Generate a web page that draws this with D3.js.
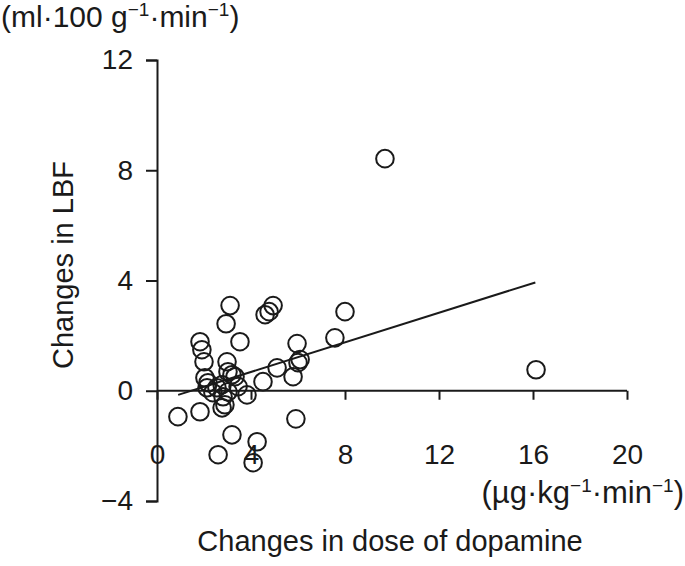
<!DOCTYPE html>
<html>
<head>
<meta charset="utf-8">
<script src="https://cdn.jsdelivr.net/npm/d3@7"></script>
<style>
  body { margin: 0; background: #fff; }
  text { font-family: "Liberation Sans", Arial, sans-serif; fill: #1a1a1a; }
</style>
</head>
<body>
<div id="chart"></div>
<script>
// data: dose change (x) vs LBF change (y)
const doseChange = [9.70, 16.13, 8.00, 7.57, 3.11, 2.94, 4.94, 4.60, 4.77, 1.83,
  1.91, 3.53, 2.00, 2.98, 5.96, 6.09, 6.00, 5.11, 5.79, 4.51,
  2.04, 2.17, 2.13, 3.02, 3.19, 3.32, 2.55, 2.77, 2.38, 3.02,
  2.81, 3.45, 3.83, 2.89, 2.77, 1.83, 0.89, 5.91, 3.19, 4.26,
  2.60, 4.09];
const lbfChange = [8.42, 0.76, 2.87, 1.92, 3.09, 2.43, 3.09, 2.76, 2.87, 1.78,
  1.49, 1.78, 1.05, 1.05, 1.71, 1.13, 1.02, 0.83, 0.51, 0.33,
  0.47, 0.29, 0.11, 0.69, 0.58, 0.51, 0.11, 0.22, -0.07, -0.04,
  -0.22, 0.15, -0.15, -0.51, -0.62, -0.76, -0.94, -1.02, -1.60, -1.85,
  -2.32, -2.61];
const fitX = [0.9, 16.1];
const fitY = [-0.15, 3.93];
const xTicks = [0, 4, 8, 12, 16, 20];
const yTicks = [-4, 0, 4, 8, 12];

const svgWidth = 685;
const svgHeight = 566;
const svg = d3.select('#chart').append('svg')
  .attr('width', svgWidth).attr('height', svgHeight);

const x = d3.scaleLinear().domain([0, 20]).range([157, 627]);
const y = d3.scaleLinear().domain([-4, 12]).range([501, 60]);

const ink = '#1a1a1a';

// y axis
const yAxis = svg.append('g')
  .attr('transform', `translate(${x(0)},0)`)
  .call(d3.axisLeft(y).tickValues(yTicks).tickSize(11).tickPadding(13)
    .tickFormat(d => d < 0 ? '\u2212' + Math.abs(d) : d));
// x axis along y = 0
const xAxis = svg.append('g')
  .attr('transform', `translate(0,${y(0)})`)
  .call(d3.axisBottom(x).tickValues(xTicks).tickSize(9).tickPadding(44).tickSizeOuter(0));

[xAxis, yAxis].forEach(a => {
  a.selectAll('path, line').attr('stroke', ink).attr('stroke-width', 2);
  a.selectAll('text').style('font-size', '28px').attr('fill', ink);
});
xAxis.select('.domain').attr('d', `M${x(0)},0H${x(20)}`);

// regression line
svg.append('line')
  .attr('x1', x(fitX[0])).attr('y1', y(fitY[0]))
  .attr('x2', x(fitX[1])).attr('y2', y(fitY[1]))
  .attr('stroke', ink).attr('stroke-width', 2);

// points
svg.append('g').selectAll('circle')
  .data(doseChange.map((d, i) => ({dose: d, lbf: lbfChange[i]})))
  .enter().append('circle')
  .attr('cx', d => x(d.dose))
  .attr('cy', d => y(d.lbf))
  .attr('r', 8.8)
  .attr('fill', 'none')
  .attr('stroke', ink)
  .attr('stroke-width', 2);

// unit labels with superscripts
function unitLabel(parts, xPos, yPos, anchor, size) {
  const t = svg.append('text')
    .attr('x', xPos).attr('y', yPos)
    .attr('text-anchor', anchor)
    .style('font-size', size + 'px');
  parts.forEach(p => {
    const s = t.append('tspan').text(p[0]);
    if (p[1]) s.attr('dy', -11).style('font-size', '19px');
    else if (t.selectAll('tspan').size() > 1) s.attr('dy', 11);
  });
  return t;
}
unitLabel([['(ml\u00b7100 g'], ['\u22121', true], ['\u00b7min'], ['\u22121', true], [')']], 1, 27, 'start', 30);
unitLabel([['(\u00b5g\u00b7kg'], ['\u22121', true], ['\u00b7min'], ['\u22121', true], [')']], 684, 503, 'end', 31);

// axis titles
svg.append('text')
  .attr('x', 390).attr('y', 551)
  .attr('text-anchor', 'middle')
  .style('font-size', '29px')
  .text('Changes in dose of dopamine');

svg.append('text')
  .attr('transform', 'translate(73,265) rotate(-90)')
  .attr('text-anchor', 'middle')
  .style('font-size', '29px')
  .text('Changes in LBF');
</script>
</body>
</html>
